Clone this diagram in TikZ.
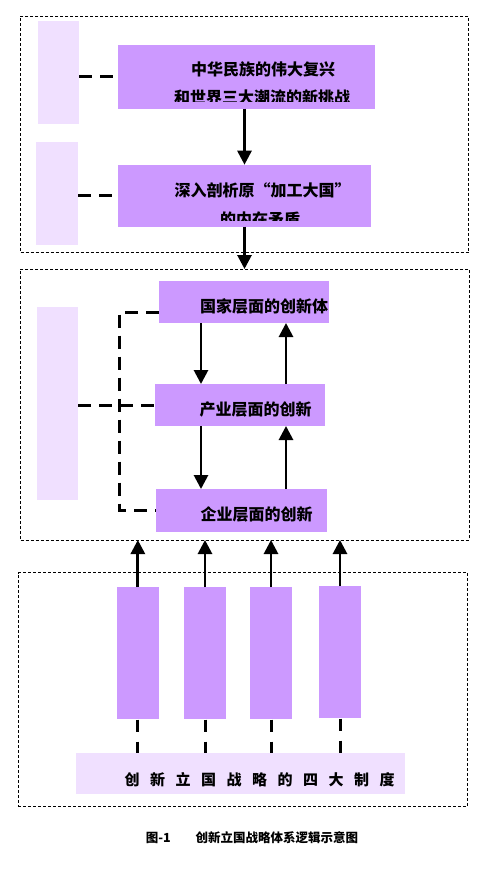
\documentclass[tikz,border=0pt]{standalone}
\usepackage{fontspec}
\newfontfamily\cjk{Noto Sans CJK SC}
\usetikzlibrary{arrows.meta,calc}
\definecolor{boxpurple}{RGB}{204,153,255}
\definecolor{boxlight}{RGB}{240,224,255}
\begin{document}
\begin{tikzpicture}[x=1pt,y=-1pt,
  frame/.style={draw, line width=0.8pt, dash pattern=on 3pt off 2pt, inner sep=0, outer sep=0, anchor=north west},
  pbox/.style={fill=boxpurple, inner sep=0, outer sep=0, anchor=north west},
  lbox/.style={fill=boxlight, inner sep=0, outer sep=0, anchor=north west},
  txt/.style={font={\cjk\bfseries\fontsize{16pt}{16pt}\selectfont}, inner sep=0},
  arr/.style={line width=2.8pt, -{Triangle[width=14pt,length=14pt]}},
  link/.style={line width=3pt, dash pattern=on 13pt off 8pt},
  vlink/.style={line width=3pt, dash pattern=on 12pt off 10pt},
]
\useasboundingbox (0,0) rectangle (499,878);

% frames
\node[frame, minimum width=448pt, minimum height=236.7pt] (F1) at (20.7,16) {};
\node[frame, minimum width=448.3pt, minimum height=271pt] (F2) at (20.7,269) {};
\node[frame, minimum width=449.4pt, minimum height=233.6pt] (F3) at (18.3,572.7) {};

% light side boxes
\node[lbox, minimum width=41.6pt, minimum height=103pt] (L1) at (37.7,21) {};
\node[lbox, minimum width=41.7pt, minimum height=103pt] (L2) at (36.3,142.3) {};
\node[lbox, minimum width=41pt, minimum height=193pt] (L3) at (37,307) {};

% top boxes
\node[pbox, minimum width=257pt, minimum height=63.7pt] (A) at (118,45) {};
\node[pbox, minimum width=253pt, minimum height=62pt] (B) at (118,164.7) {};
\begin{scope}
  \clip (118,45) rectangle (375,101);
  \node[txt] (A1) at (263,69.5) {中华民族的伟大复兴};
  \node[txt] (A2) at (262,97) {和世界三大潮流的新挑战};
\end{scope}
\begin{scope}
  \clip (118,164.7) rectangle (371,220);
  \node[txt] (B1) at (262.5,190) {深入剖析原“加工大国”};
  \node[txt] (B2) at (260,219.5) {的内在矛盾};
\end{scope}

% middle boxes
\node[pbox, minimum width=170pt, minimum height=42pt] (C) at (159,281) {};
\node[pbox, minimum width=170pt, minimum height=42pt] (D) at (155,384) {};
\node[pbox, minimum width=171pt, minimum height=42.7pt] (E) at (156,489) {};
\node[txt, anchor=west] (Ct) at (200,306.5) {国家层面的创新体};
\node[txt, anchor=west] (Dt) at (199.5,409.5) {产业层面的创新};
\node[txt, anchor=west] (Et) at (200.5,514.7) {企业层面的创新};

% bottom boxes
\node[pbox, minimum width=41.7pt, minimum height=131.7pt] (T1) at (117,587) {};
\node[pbox, minimum width=42pt, minimum height=131.7pt] (T2) at (184,587) {};
\node[pbox, minimum width=42pt, minimum height=131.7pt] (T3) at (250,587) {};
\node[pbox, minimum width=42pt, minimum height=131.7pt] (T4) at (319,586) {};
\node[lbox, minimum width=328.7pt, minimum height=41.6pt] (bar) at (76.3,752.7) {};
\node[inner sep=0, font={\cjk\bfseries\fontsize{15pt}{15pt}\selectfont}] (bart) at (259.6,780)
  {\spaceskip=10.5pt\relax 创 新 立 国 战 略 的 四 大 制 度};

% caption
\node[inner sep=0, font={\cjk\bfseries\fontsize{12.5pt}{12.5pt}\selectfont}] (cap) at (252,838)
  {图-1　　创新立国战略体系逻辑示意图};

% coordinates
\coordinate (bt) at (119.5,312);
\coordinate (bb) at (119.5,510);
\coordinate (dx) at (201,0);
\coordinate (ux) at (286,0);

% connectors top
\draw[link] (L1.east |- A.west) -- (A.west);
\draw[link] (L2.east |- B.west) -- (B.west);
\draw[arr] (B.north |- A.south) -- (B.north);
\draw[arr] (B.south) -- (B.south |- F2.north);

% connectors middle
\draw[link] (L3.east |- D.west) -- (D.west);
\draw[link] (C.west |- bt) -- (bt) -- (bb) -- (E.west |- bb);
\draw[arr] (C.south -| dx) -- (D.north -| dx);
\draw[arr] (D.north -| ux) -- (C.south -| ux);
\draw[arr] (D.south -| dx) -- (E.north -| dx);
\draw[arr] (E.north -| ux) -- (D.south -| ux);

% connectors bottom
\foreach \t in {T1,T2,T3,T4}{
  \draw[arr] (\t.north) -- (\t.north |- F2.south);
  \draw[vlink, shorten <=1pt] (\t.south) -- (\t.south |- bar.north);
}
\end{tikzpicture}
\end{document}
